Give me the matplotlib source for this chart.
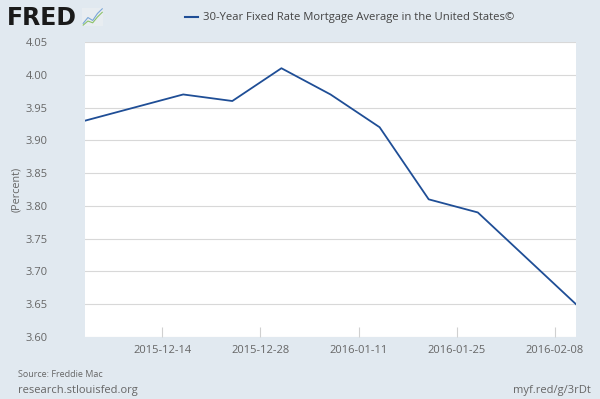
import matplotlib.pyplot as plt
import matplotlib.dates as mdates
import numpy as np

plt.rcParams['font.family'] = ['Open Sans', 'DejaVu Sans']

dates = ['2015-12-03', '2015-12-10', '2015-12-17', '2015-12-24', '2015-12-31',
         '2016-01-07', '2016-01-14', '2016-01-21', '2016-01-28', '2016-02-04',
         '2016-02-11']
rates = [3.93, 3.95, 3.97, 3.96, 4.01, 3.97, 3.92, 3.81, 3.79, 3.72, 3.65]
tick_dates = ['2015-12-14', '2015-12-28', '2016-01-11', '2016-01-25', '2016-02-08']
series_name = '30-Year Fixed Rate Mortgage Average in the United States©'

bg = '#e1e9f0'
line_color = '#1f4e96'
text_color = '#666666'

x = np.array(dates, dtype='datetime64[D]')
ticks = np.array(tick_dates, dtype='datetime64[D]')
yvals = np.arange(3.60, 4.051, 0.05)

fig = plt.figure(figsize=(6, 3.99), dpi=100, facecolor=bg)
ax = fig.add_axes([0.1417, 0.1554, 0.8183, 0.7393])
ax.set_facecolor('white')

ax.plot(x, rates, color=line_color, linewidth=1.3)

ax.set_xlim(x[0], x[-1])
ax.set_ylim(3.60, 4.05)
ax.set_yticks(yvals)
ax.set_yticklabels([f'{v:.2f}' for v in yvals])
ax.set_xticks(ticks)
ax.xaxis.set_major_formatter(mdates.DateFormatter('%Y-%m-%d'))

ax.grid(axis='y', color='#d8d8d8', linewidth=0.8)
ax.set_axisbelow(True)
for s in ax.spines.values():
    s.set_visible(False)
ax.tick_params(axis='y', length=0, pad=27, labelsize=8, labelcolor=text_color)
ax.tick_params(axis='x', length=7, width=0.8, color='#d0d0d0', direction='in',
               pad=6, labelsize=8, labelcolor=text_color)
for lab in ax.get_yticklabels():
    lab.set_horizontalalignment('right')
ax.set_ylabel('(Percent)', fontsize=7.8, color=text_color, labelpad=2)

# header
fig.text(0.012, 0.955, 'FRED', fontsize=17, fontweight='heavy', color='#1a1a1a',
         family='DejaVu Sans', va='center', ha='left')
icon = fig.add_axes([0.137, 0.935, 0.035, 0.045])
icon.set_facecolor('#e8edf1')
icon.plot([0, 1, 2, 3, 4], [0.5, 1.5, 1.0, 2.2, 3.0], color='#7aa7d8', linewidth=0.8)
icon.plot([0, 1, 2, 3, 4], [0.2, 0.9, 0.6, 1.6, 2.4], color='#8cc26a', linewidth=0.8)
icon.set_xticks([])
icon.set_yticks([])
for s in icon.spines.values():
    s.set_visible(False)

fig.add_artist(plt.Line2D([0.308, 0.33], [0.957, 0.957], color=line_color,
                          linewidth=1.5, transform=fig.transFigure))
fig.text(0.338, 0.957, series_name, fontsize=8.1, color='#444444', va='center', ha='left')

# footer
fig.text(0.03, 0.062, 'Source: Freddie Mac', fontsize=6.5, color=text_color, va='center')
fig.text(0.03, 0.022, 'research.stlouisfed.org', fontsize=8, color=text_color, va='center')
fig.text(0.985, 0.022, 'myf.red/g/3rDt', fontsize=8, color=text_color, va='center', ha='right')

fig.savefig('out.png', dpi=100, facecolor=bg)
